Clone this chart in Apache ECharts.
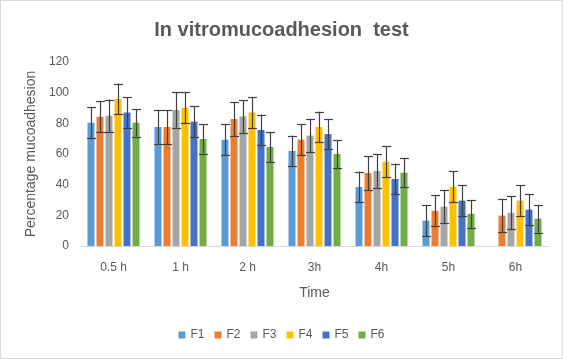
<!DOCTYPE html>
<html><head><meta charset="utf-8">
<script src="https://cdn.jsdelivr.net/npm/echarts@6/dist/echarts.min.js"></script>
<style>html,body{margin:0;padding:0;background:#fff}#c{width:561px;height:357px;border:1px solid #d9d9d9}</style>
</head><body><div id="c"></div>
<script>
var categories = ['0.5 h','1 h','2 h','3h','4h','5h','6h'];
var seriesNames = ['F1','F2','F3','F4','F5','F6'];
var F1 = [80.4, 77.6, 69.3, 62, 38.5, 16.5, null];
var F2 = [84.3, 77.6, 82.8, 69.4, 47.6, 23, 19.8];
var F3 = [85, 88.7, 84.4, 72, 48.9, 25.6, 21.7];
var F4 = [95.9, 90.2, 87, 77.6, 55, 38.7, 29.6];
var F5 = [87, 81.1, 75.7, 73, 43.7, 29.6, 23.7];
var F6 = [80.4, 69.8, 64.6, 60, 47.8, 21, 17.8];
var E1 = [10, 11, 10, 10, 10, 10, null];
var E2 = [10, 11, 11, 10, 11, 10, 10.6];
var E3 = [10.5, 11.5, 10.6, 11, 11, 10.7, 10.7];
var E4 = [10, 10, 10, 10, 10, 10, 10];
var E5 = [10, 10, 10, 9.6, 10, 10, 10];
var E6 = [9, 9.6, 9.8, 9, 9.4, 9, 9];
var yTicks = [0, 20, 40, 60, 80, 100, 120];
var colors = ['#5B9BD5','#ED7D31','#A5A5A5','#FFC000','#4472C4','#70AD47'];

var vals = [F1,F2,F3,F4,F5,F6];
var errs = [E1,E2,E3,E4,E5,E6];
var BW = 7, STEP = 9;
var series = [];
vals.forEach(function(v, i){
  series.push({name: seriesNames[i], type:'bar', data: v, barWidth: BW, barGap: '28.6%',
    itemStyle:{color: colors[i]}, z:2});
});
vals.forEach(function(v, i){
  var d = [];
  v.forEach(function(val, k){
    if (val != null && errs[i][k] != null) d.push([k, val - errs[i][k], val + errs[i][k]]);
  });
  series.push({type:'custom', name: seriesNames[i] + ' err', data: d, z: 5,
    encode:{x:0, y:[1,2]}, silent:true, legendHoverLink:false,
    renderItem: function(params, api){
      var off = (i - 2.5) * STEP;
      var lo = api.coord([api.value(0), api.value(1)]);
      var hi = api.coord([api.value(0), api.value(2)]);
      var x = Math.round(lo[0] + off) + 0.5;
      var hw = 4.5;
      var st = {stroke:'#404040', lineWidth:1.2, fill:null};
      return {type:'group', children:[
        {type:'line', shape:{x1:x, y1:hi[1], x2:x, y2:lo[1]}, style:st},
        {type:'line', shape:{x1:x-hw, y1:Math.round(hi[1])+0.5, x2:x+hw, y2:Math.round(hi[1])+0.5}, style:st},
        {type:'line', shape:{x1:x-hw, y1:Math.round(lo[1])+0.5, x2:x+hw, y2:Math.round(lo[1])+0.5}, style:st}
      ]};
    }});
});

var chart = echarts.init(document.getElementById('c'), null, {renderer:'canvas'});
var font = 'Liberation Sans, Arial, sans-serif';
chart.setOption({
  animation:false,
  textStyle:{fontFamily:font},
  title:{text:'In vitromucoadhesion  test', left:'center', top:14,
    textStyle:{fontSize:20, fontWeight:'bold', color:'#595959', fontFamily:font}},
  legend:{data: seriesNames, bottom:12, left:'center', itemWidth:7, itemHeight:7, itemGap:10,
    icon:'rect', textStyle:{color:'#595959', fontSize:12}},
  grid:{left:79, right:13, top:61, bottom:112},
  xAxis:{type:'category', data: categories, name:'Time', nameLocation:'middle', nameGap:40,
    nameTextStyle:{color:'#595959', fontSize:14},
    axisLine:{lineStyle:{color:'#d9d9d9'}}, axisTick:{show:false},
    axisLabel:{color:'#595959', fontSize:12, margin:16}},
  yAxis:{type:'value', min:0, max:120, interval:20, name:'Percentage mucoadhesion',
    nameLocation:'middle', nameGap:42, nameRotate:90,
    nameTextStyle:{color:'#595959', fontSize:14},
    splitLine:{show:false}, axisLine:{show:false}, axisTick:{show:false},
    axisLabel:{color:'#595959', fontSize:12, margin:11,
      formatter:function(v){ return yTicks.indexOf(v) >= 0 ? String(v) : ''; }}},
  series: series
});
</script></body></html>
